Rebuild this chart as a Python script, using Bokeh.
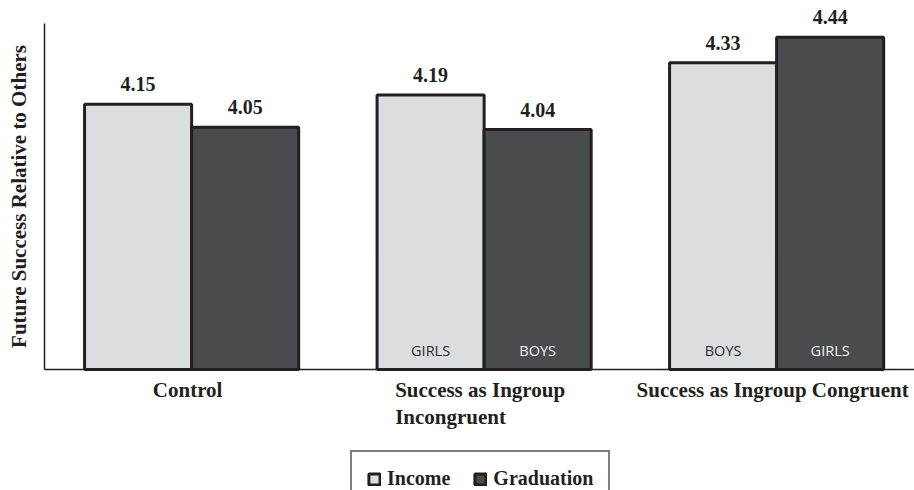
import math
from bokeh.plotting import figure
from bokeh.models import ColumnDataSource, Range1d, LabelSet, Label, Legend, LegendItem
from bokeh.transform import dodge
from bokeh.core.properties import value
from bokeh.embed import file_html
from bokeh.resources import INLINE

groups = ["Control", "Success as Ingroup\nIncongruent", "Success as Ingroup Congruent"]
income = [4.15, 4.19, 4.33]
graduation = [4.05, 4.04, 4.44]
income_tags = ["", "GIRLS", "BOYS"]
graduation_tags = ["", "BOYS", "GIRLS"]
y_title = "Future Success Relative to Others"
y_min, y_max = 3.0, 4.5

income_text = ["%.2f" % v for v in income]
graduation_text = ["%.2f" % v for v in graduation]
xs = list(range(len(groups)))
src = ColumnDataSource(dict(x=xs, income=income, graduation=graduation,
                            inc_t=income_text, grad_t=graduation_text,
                            inc_tag=income_tags, grad_tag=graduation_tags,
                            group=groups, base=[y_min] * len(xs)))

FONT = "Liberation Serif"
SERIF = value(FONT)
SANS = value("Open Sans")
EDGE = "#231F20"
LIGHT = "#DCDDDF"
DARK = "#4A4B4D"
off = 0.183
bw = 0.366

W, H = 914, 490
ppu_y = 346 / (y_max - y_min)        # px per value unit
ppu_x = 292.5                        # px per category
axis_left_px = 44
x_lo = -0.503                        # where the value axis sits
x_start = x_lo - axis_left_px / ppu_x
x_end = x_start + W / ppu_x

p = figure(width=W, height=H, output_backend="svg", toolbar_location=None,
           x_axis_location=None, y_axis_location=None,
           x_range=Range1d(x_start, x_end),
           y_range=Range1d(y_min - 121 / ppu_y, y_max + 23 / ppu_y),
           min_border_left=0, min_border_right=0, min_border_top=0, min_border_bottom=0)
p.outline_line_color = None
p.grid.visible = False

# axis lines
p.segment(x0=[x_lo, x_lo], y0=[y_min, y_min], x1=[x_lo, x_end], y1=[y_max, y_min],
          line_color=EDGE, line_width=1.5)

r_inc = p.vbar(x=dodge("x", -off), top="income", bottom="base", width=bw, source=src,
               fill_color=LIGHT, line_color=EDGE, line_width=3)
r_grad = p.vbar(x=dodge("x", off), top="graduation", bottom="base", width=bw, source=src,
                fill_color=DARK, line_color=EDGE, line_width=3)

# value labels
for ycol, tcol, dx in (("income", "inc_t", -off), ("graduation", "grad_t", off)):
    p.add_layout(LabelSet(x=dodge("x", dx), y=ycol, text=tcol, source=src,
                          text_align="center", text_baseline="alphabetic",
                          y_offset=13, text_font=SERIF, text_font_style="bold",
                          text_font_size="20px", text_color=EDGE))

# in-bar tags
p.add_layout(LabelSet(x=dodge("x", -off), y="base", text="inc_tag", source=src,
                      text_align="center", text_baseline="alphabetic", y_offset=14,
                      text_font=SANS, text_font_size="14.5px", text_color="#2B2B2B"))
p.add_layout(LabelSet(x=dodge("x", off), y="base", text="grad_tag", source=src,
                      text_align="center", text_baseline="alphabetic", y_offset=14,
                      text_font=SANS, text_font_size="14.5px", text_color="#F2F2F2"))

# category labels
p.add_layout(LabelSet(x="x", y="base", text="group", source=src,
                      text_align="center", text_baseline="top", y_offset=-8, x_offset=-4,
                      text_font=SERIF, text_font_style="bold", text_font_size="21px",
                      text_line_height=1.14, text_color=EDGE))

# value-axis title
p.add_layout(Label(x=18, x_units="screen", y=(y_min + y_max) / 2, text=y_title,
                   angle=math.pi / 2, text_align="center", text_baseline="alphabetic",
                   text_font=FONT, text_font_style="bold", text_font_size="21px",
                   text_color=EDGE))

legend = Legend(items=[LegendItem(label="Income", renderers=[r_inc]),
                       LegendItem(label="Graduation", renderers=[r_grad])],
                orientation="horizontal", location=(350, -17),
                glyph_width=14, glyph_height=14, label_standoff=6, spacing=23, padding=15,
                label_text_font=FONT, label_text_font_style="bold",
                label_text_font_size="20px",
                label_text_color=EDGE, border_line_color="#000000", border_line_width=2.5,
                background_fill_color="white", background_fill_alpha=1.0)
p.add_layout(legend, "center")

open("out.html", "w").write(file_html(p, INLINE))
